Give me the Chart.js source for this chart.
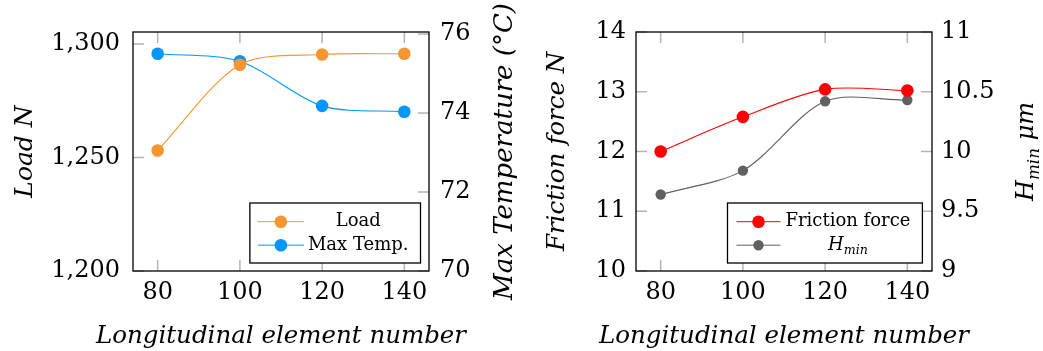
<!DOCTYPE html>
<html><head><meta charset="utf-8">
<script src="https://cdn.jsdelivr.net/npm/chart.js@4.4.0/dist/chart.umd.min.js"></script>
<style>
html,body{margin:0;padding:0;background:#fff;width:1043px;height:351px;overflow:hidden}
canvas{position:absolute;top:0}
#c1{left:0}
#c2{left:521px}
</style></head><body>
<canvas id="c1" width="521" height="351"></canvas>
<canvas id="c2" width="522" height="351"></canvas>
<script>
// ---- data ----
const elementNumbers = [80, 100, 120, 140];
const loadN = [1253.1, 1290.9, 1295.4, 1295.7];
const maxTempC = [75.5, 75.31, 74.18, 74.03];
const frictionN = [12.0, 12.58, 13.04, 13.02];
const hMinUm = [9.64, 9.84, 10.42, 10.43];

// ---- tick labels ----
const xTicks = [80, 100, 120, 140];
const loadTicks = [1200, 1250, 1300];
const tempTicks = [70, 72, 74, 76];
const frictionTicks = [10, 11, 12, 13, 14];
const hMinTicks = [9, 9.5, 10, 10.5, 11];

// ---- texts ----
const xTitle = 'Longitudinal element number';
const loadTitle = 'Load N';
const tempTitle = 'Max Temperature (°C)';
const frictionTitle = 'Friction force N';
const hMinTitle = 'H_min μm';
const loadLabel = 'Load';
const tempLabel = 'Max Temp.';
const frictionLabel = 'Friction force';
const hMinLabel = 'H_min';

const FAM = '"DejaVu Serif", "Liberation Serif", serif';
const ORANGE = 'rgb(247,150,48)';
const BLUE = 'rgb(0,150,255)';
const RED = 'rgb(255,0,0)';
const GRAY = 'rgb(96,96,96)';

function pts(ys) { return elementNumbers.map((x, i) => ({x: x, y: ys[i]})); }
function fixedTicks(arr) { return s => { s.ticks = arr.map(v => ({value: v})); }; }

// rich text with simple subscripts: "H_min"
function segs(text) {
  const p = String(text).split(/_([A-Za-z]+)/);
  return p.map((s, i) => ({s: s, sub: i % 2 === 1})).filter(g => g.s.length);
}
function fontStr(size, italic) { return (italic ? 'italic ' : '') + size + 'px ' + FAM; }
function measureRich(ctx, text, size, italic) {
  let w = 0;
  for (const g of segs(text)) { ctx.font = fontStr(g.sub ? size * 0.7 : size, italic); w += ctx.measureText(g.s).width; }
  return w;
}
function drawRich(ctx, text, x, y, size, italic) {
  ctx.textAlign = 'left'; ctx.textBaseline = 'middle';
  for (const g of segs(text)) {
    const fs = g.sub ? size * 0.7 : size;
    ctx.font = fontStr(fs, italic);
    ctx.fillText(g.s, x, g.sub ? y + size * 0.3 : y);
    x += ctx.measureText(g.s).width;
  }
}

const frameTicks = {
  id: 'frameTicks',
  beforeDatasetsDraw(chart) {
    const {ctx, chartArea: a} = chart;
    const len = 11;
    ctx.save();
    ctx.strokeStyle = 'rgb(180,180,180)';
    ctx.lineWidth = 1.5;
    ctx.beginPath();
    for (const s of Object.values(chart.scales)) {
      for (const t of s.ticks) {
        const p = s.getPixelForValue(t.value);
        if (s.isHorizontal()) {
          ctx.moveTo(p, a.top); ctx.lineTo(p, a.top + len);
          ctx.moveTo(p, a.bottom); ctx.lineTo(p, a.bottom - len);
        } else if (s.position === 'left') {
          ctx.moveTo(a.left, p); ctx.lineTo(a.left + len, p);
        } else {
          ctx.moveTo(a.right, p); ctx.lineTo(a.right - len, p);
        }
      }
    }
    ctx.stroke();
    ctx.restore();
  },
  afterDatasetsDraw(chart) {
    const {ctx, chartArea: a} = chart;
    ctx.save();
    ctx.strokeStyle = '#000';
    ctx.lineWidth = 1.3;
    ctx.strokeRect(a.left, a.top, a.right - a.left, a.bottom - a.top);
    ctx.restore();
  }
};

const boxLegend = {
  id: 'boxLegend',
  afterDraw(chart, args, o) {
    const {ctx, chartArea: a} = chart;
    const ds = chart.data.datasets;
    ctx.save();
    const widths = ds.map(d => measureRich(ctx, d.label, o.fontSize, d.label.indexOf('_') >= 0));
    const tw = Math.max(...widths);
    const w = o.padL + o.sample + o.gap + tw + o.padR;
    const h = o.height;
    const x0 = a.right - o.right - w, y0 = a.bottom - o.bottom - h;
    ctx.fillStyle = '#fff';
    ctx.fillRect(x0, y0, w, h);
    ctx.strokeStyle = '#000';
    ctx.lineWidth = 1.3;
    ctx.strokeRect(x0, y0, w, h);
    ds.forEach((d, i) => {
      const cy = y0 + o.rowTop + i * o.rowGap;
      const sx = x0 + o.padL;
      ctx.strokeStyle = d.borderColor;
      ctx.lineWidth = 1;
      ctx.beginPath(); ctx.moveTo(sx, cy); ctx.lineTo(sx + o.sample, cy); ctx.stroke();
      ctx.fillStyle = d.pointBackgroundColor;
      ctx.beginPath(); ctx.arc(sx + o.sample / 2, cy, d.pointRadius, 0, Math.PI * 2); ctx.fill();
      ctx.fillStyle = '#000';
      const italic = d.label.indexOf('_') >= 0;
      const cx = sx + o.sample + o.gap + tw / 2;
      drawRich(ctx, d.label, cx - widths[i] / 2, cy, o.fontSize, italic);
    });
    ctx.restore();
  }
};

// draws the axis titles stored in each scale's title.text
const axisTitles = {
  id: 'axisTitles',
  afterDraw(chart, args, o) {
    const {ctx, chartArea: a} = chart;
    ctx.save();
    ctx.fillStyle = '#000';
    for (const it of o.items) {
      const text = chart.scales[it.scale].options.title.text;
      const w = measureRich(ctx, text, it.size, true);
      ctx.save();
      if (it.y !== undefined) {
        ctx.translate((a.left + a.right) / 2, it.y);
      } else {
        ctx.translate(it.x, (a.top + a.bottom) / 2);
        ctx.rotate(-Math.PI / 2);
      }
      drawRich(ctx, text, -w / 2, 0, it.size, true);
      ctx.restore();
    }
    ctx.restore();
  }
};

const tickFont = {family: FAM, size: 24};

function xScale() {
  return {
    type: 'linear', position: 'bottom', min: 74, max: 146, bounds: 'data',
    afterBuildTicks: fixedTicks(xTicks),
    afterFit: s => { s.height = 80; },
    grid: {display: false, drawTicks: false}, border: {display: false},
    ticks: {padding: 7, color: '#000', font: tickFont, maxRotation: 0},
    title: {display: false, text: xTitle}
  };
}
function yScale(pos, min, max, tks, width, pad, title, fmt) {
  return {
    type: 'linear', position: pos, min: min, max: max, bounds: 'data',
    afterBuildTicks: fixedTicks(tks),
    afterFit: s => { s.width = width; },
    grid: {display: false, drawTicks: false}, border: {display: false},
    ticks: {padding: pad, color: '#000', font: tickFont, callback: fmt},
    title: {display: false, text: title}
  };
}
function lineDs(label, ys, axis, color, r) {
  return {label: label, data: pts(ys), yAxisID: axis, borderColor: color, backgroundColor: color,
    pointBackgroundColor: color, pointBorderWidth: 0, pointRadius: r, pointHoverRadius: r,
    borderWidth: 1.1, tension: 0.3, fill: false};
}

new Chart(document.getElementById('c1'), {
  type: 'line',
  data: {datasets: [
    lineDs(loadLabel, loadN, 'y', ORANGE, 6.3),
    lineDs(tempLabel, maxTempC, 'y1', BLUE, 6.3)
  ]},
  options: {
    responsive: false, animation: false, devicePixelRatio: 1,
    layout: {padding: {top: 32, left: 0, right: 0, bottom: 0}},
    plugins: {
      legend: {display: false}, tooltip: {enabled: false},
      boxLegend: {fontSize: 18, padL: 8, sample: 46, gap: 4, padR: 12, height: 60, right: 8.5, bottom: 8, rowTop: 18.7, rowGap: 23.5},
      axisTitles: {items: [
        {scale: 'x', y: 337, size: 24.5},
        {scale: 'y', x: 25, size: 25},
        {scale: 'y1', x: 505, size: 26}
      ]}
    },
    scales: {
      x: xScale(),
      y: yScale('left', 1200, 1305.3, loadTicks, 133, 13, loadTitle, v => v.toLocaleString('en-US')),
      y1: yScale('right', 70, 76.05, tempTicks, 92, 11, tempTitle, v => String(v))
    }
  },
  plugins: [frameTicks, boxLegend, axisTitles]
});

new Chart(document.getElementById('c2'), {
  type: 'line',
  data: {datasets: [
    lineDs(frictionLabel, frictionN, 'y', RED, 6.3),
    lineDs(hMinLabel, hMinUm, 'y1', GRAY, 5.2)
  ]},
  options: {
    responsive: false, animation: false, devicePixelRatio: 1,
    layout: {padding: {top: 32, left: 0, right: 0, bottom: 0}},
    plugins: {
      legend: {display: false}, tooltip: {enabled: false},
      boxLegend: {fontSize: 18, padL: 9, sample: 44, gap: 5, padR: 12, height: 60, right: 9.6, bottom: 8, rowTop: 18.7, rowGap: 23.5},
      axisTitles: {items: [
        {scale: 'x', y: 337, size: 24.5},
        {scale: 'y', x: 37, size: 24.5},
        {scale: 'y1', x: 506, size: 24}
      ]}
    },
    scales: {
      x: xScale(),
      y: yScale('left', 10, 14, frictionTicks, 115, 10, frictionTitle, v => String(v)),
      y1: yScale('right', 9, 11, hMinTicks, 111, 9, hMinTitle, v => String(v))
    }
  },
  plugins: [frameTicks, boxLegend, axisTitles]
});
</script>
</body></html>
